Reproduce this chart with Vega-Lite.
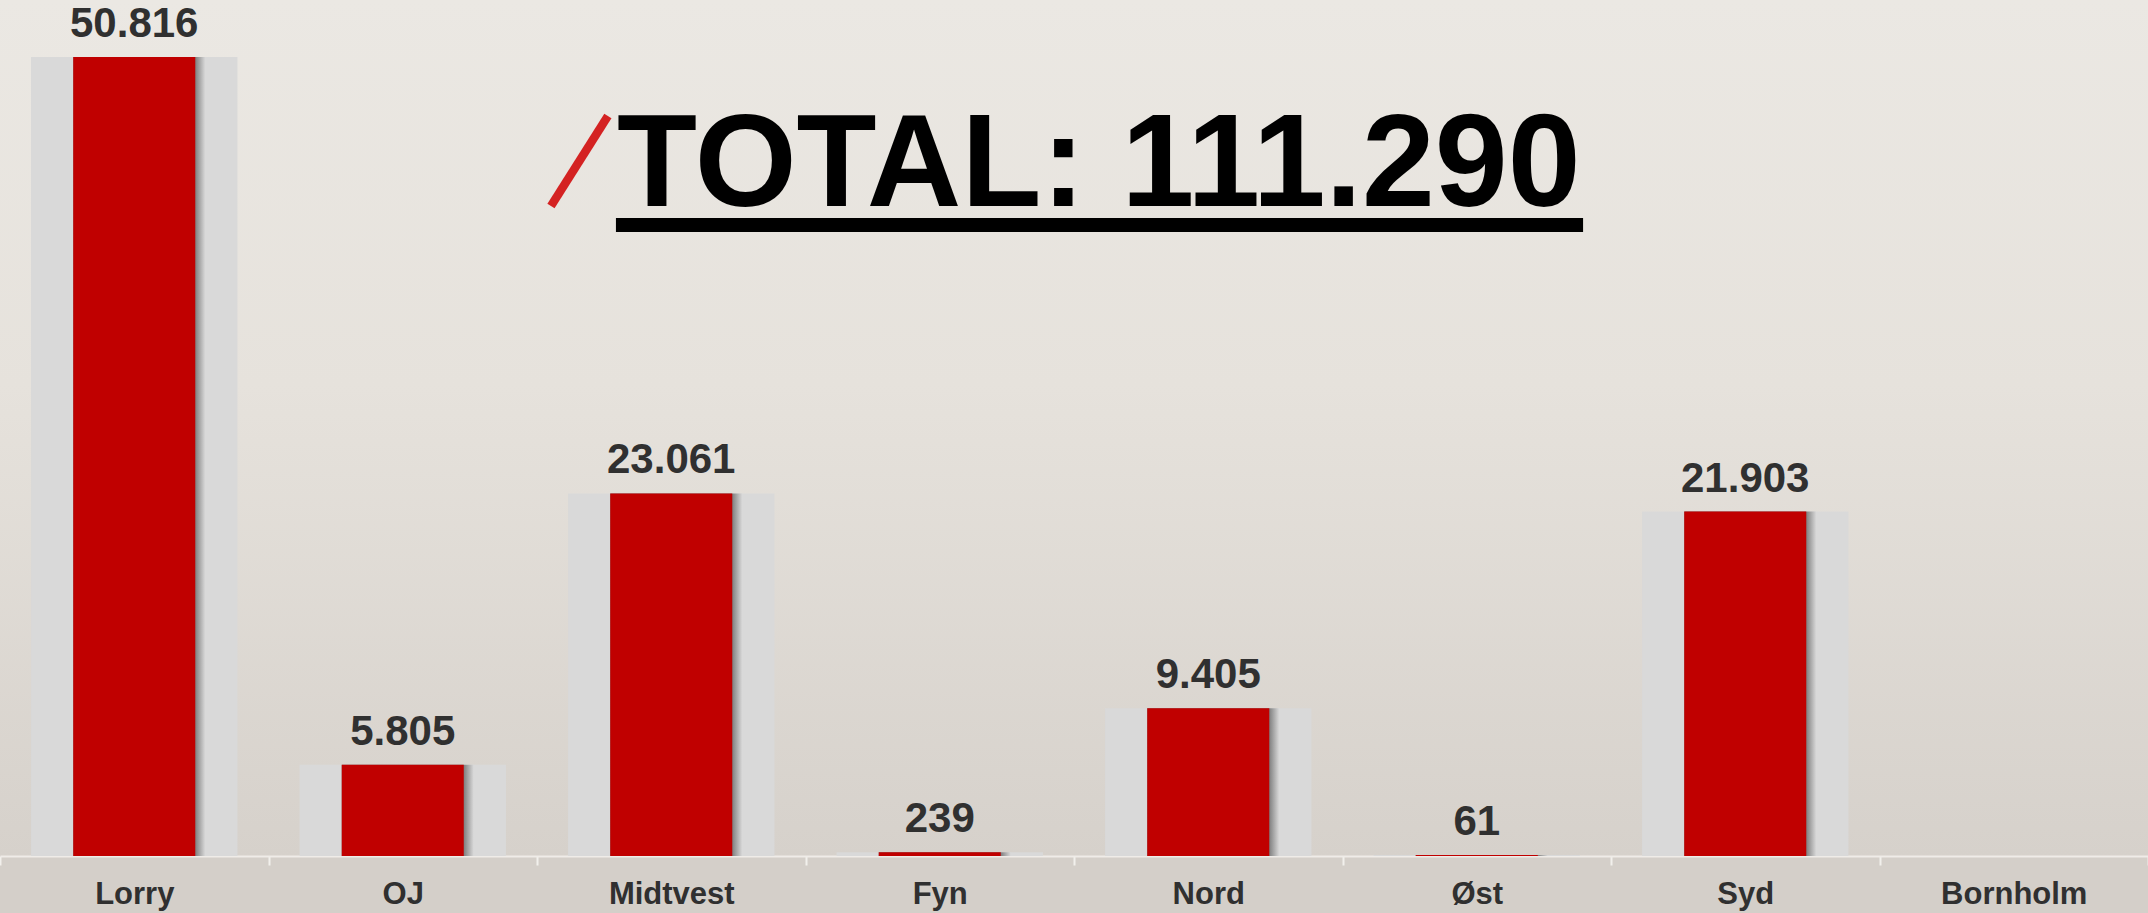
{
  "$schema": "https://vega.github.io/schema/vega-lite/v6.json",
  "width": 2148,
  "height": 856,
  "padding": {"left": 0, "top": 0, "right": 0, "bottom": 57},
  "autosize": {"type": "none"},
  "background": "#d4cfc9",
  "view": {
    "stroke": null,
    "fill": {
      "gradient": "linear",
      "x1": 0, "y1": 0, "x2": 0, "y2": 1,
      "stops": [
        {"offset": 0, "color": "#ebe8e3"},
        {"offset": 0.45, "color": "#e6e2dc"},
        {"offset": 1, "color": "#d6d1cb"}
      ]
    }
  },
  "config": {
    "font": "Liberation Sans",
    "locale": {
      "number": {"decimal": ",", "thousands": ".", "grouping": [3], "currency": ["", " kr."]}
    }
  },
  "datasets": {
    "regions": [
      {"region": "Lorry", "value": 50816},
      {"region": "OJ", "value": 5805},
      {"region": "Midtvest", "value": 23061},
      {"region": "Fyn", "value": 239},
      {"region": "Nord", "value": 9405},
      {"region": "Øst", "value": 61},
      {"region": "Syd", "value": 21903},
      {"region": "Bornholm", "value": 0}
    ]
  },
  "layer": [
    {
      "data": {"name": "regions"},
      "encoding": {
        "x": {
          "field": "region",
          "type": "nominal",
          "sort": null,
          "scale": {"paddingInner": 0, "paddingOuter": 0},
          "axis": {
            "title": null,
            "labelFontSize": 31,
            "labelFontWeight": "bold",
            "labelColor": "#303030",
            "labelFont": "Liberation Sans",
            "labelAngle": 0,
            "labelBaseline": "alphabetic",
            "labelPadding": 38,
            "tickSize": 9,
            "tickWidth": 2,
            "tickColor": "#f2f0ec",
            "domainColor": "#efece8",
            "domainWidth": 2,
            "tickBand": "extent"
          }
        },
        "y": {
          "field": "value",
          "type": "quantitative",
          "scale": {"domain": [0, 54443], "nice": false},
          "axis": null
        }
      },
      "layer": [
        {"mark": {"type": "bar", "width": {"band": 0.7687}, "color": "#d9d9d9"}},
        {
          "mark": {
            "type": "bar",
            "width": {"band": 0.4916},
            "xOffset": 5,
            "fill": {
              "gradient": "linear",
              "x1": 0, "y1": 0, "x2": 1, "y2": 0,
              "stops": [
                {"offset": 0, "color": "#777777"},
                {"offset": 0.92, "color": "#7a7a7a"},
                {"offset": 1, "color": "#d9d9d9"}
              ]
            }
          }
        },
        {"mark": {"type": "bar", "width": {"band": 0.4544}, "color": "#c00000"}},
        {
          "transform": [{"filter": "datum.value > 0"}],
          "mark": {
            "type": "text",
            "dy": -20,
            "baseline": "alphabetic",
            "fontSize": 42,
            "fontWeight": "bold",
            "font": "Liberation Sans",
            "color": "#303030"
          },
          "encoding": {"text": {"field": "value", "type": "quantitative", "format": ",.0f"}}
        }
      ]
    },
    {
      "data": {"values": [{"label": "TOTAL: 111.290"}]},
      "layer": [
        {
          "mark": {"type": "rule", "color": "#d42222", "strokeWidth": 8.5},
          "encoding": {
            "x": {"datum": 2.052, "type": "quantitative", "scale": {"domain": [0, 8], "nice": false, "zero": false}, "axis": null},
            "x2": {"datum": 2.264},
            "y": {"datum": 41341, "type": "quantitative"},
            "y2": {"datum": 47065}
          }
        },
        {
          "mark": {"type": "rule", "color": "#000000", "strokeWidth": 14},
          "encoding": {
            "x": {"datum": 2.294, "type": "quantitative", "scale": {"domain": [0, 8], "nice": false, "zero": false}, "axis": null},
            "x2": {"datum": 5.896},
            "y": {"datum": 40132, "type": "quantitative"}
          }
        },
        {
          "mark": {
            "type": "text",
            "align": "left",
            "baseline": "alphabetic",
            "fontSize": 131,
            "fontWeight": "bold",
            "font": "Liberation Sans",
            "color": "#000000"
          },
          "encoding": {
            "x": {"datum": 2.298, "type": "quantitative", "scale": {"domain": [0, 8], "nice": false, "zero": false}, "axis": null},
            "y": {"datum": 41341, "type": "quantitative"},
            "text": {"field": "label", "type": "nominal"}
          }
        }
      ]
    }
  ],
  "resolve": {"scale": {"x": "independent"}}
}
